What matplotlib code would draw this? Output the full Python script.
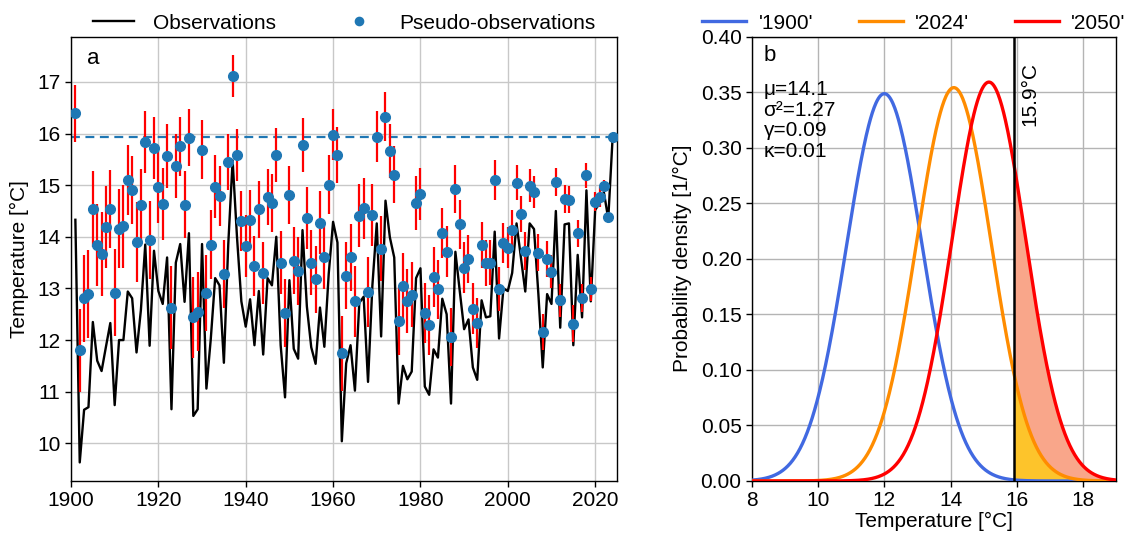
import numpy as np
import matplotlib
matplotlib.use("Agg")
import matplotlib.pyplot as plt

plt.rcParams['font.family'] = ['Liberation Sans', 'DejaVu Sans']
plt.rcParams['font.size'] = 15

# ---------------- data: panel a ----------------
years = np.arange(1901, 2025)

observations = [
    14.33, 9.63, 10.65, 10.70, 12.35, 11.60, 11.40, 11.87, 12.33, 10.74,
    12.00, 12.00, 12.94, 12.81, 11.76, 12.58, 13.85, 11.89, 13.73, 12.95,
    12.70, 13.60, 10.66, 13.50, 13.86, 12.74, 14.07, 10.53, 10.66, 13.86,
    11.06, 12.02, 13.20, 13.06, 11.56, 13.85, 15.48, 14.00, 12.75, 12.26,
    12.79, 11.90, 12.95, 11.72, 13.20, 13.06, 14.00, 11.90, 10.89, 13.16,
    11.83, 11.64, 14.13, 12.65, 11.86, 11.54, 12.63, 11.87, 13.28, 14.29,
    13.89, 10.04, 11.55, 11.90, 11.02, 12.72, 12.84, 11.19, 13.06, 14.26,
    12.07, 14.70, 13.99, 13.60, 10.77, 11.50, 11.24, 11.39, 13.20, 13.39,
    11.10, 10.94, 11.82, 11.66, 12.80, 12.50, 10.77, 13.71, 12.95, 12.21,
    12.40, 11.47, 11.23, 12.77, 12.44, 12.46, 14.10, 12.03, 13.00, 12.95,
    13.30, 14.26, 13.60, 12.94, 14.26, 14.15, 12.89, 11.47, 12.89, 12.70,
    14.50, 12.24, 14.24, 14.26, 11.90, 13.65, 12.44, 14.90, 12.75, 14.52,
    14.65, 14.86, 14.35, 15.93,
]

pseudo_obs = [
    16.39, 11.80, 12.81, 12.89, 14.54, 13.84, 13.67, 14.19, 14.54, 12.92,
    14.16, 14.20, 15.10, 14.91, 13.90, 14.62, 15.83, 13.94, 15.72, 14.97,
    14.64, 15.56, 12.63, 15.38, 15.75, 14.62, 15.92, 12.44, 12.55, 15.69,
    12.91, 13.85, 14.97, 14.79, 13.28, 15.45, 17.11, 15.58, 14.31, 13.82,
    14.33, 13.43, 14.53, 13.30, 14.77, 14.66, 15.58, 13.50, 12.53, 14.81,
    13.54, 13.33, 15.78, 14.36, 13.50, 13.18, 14.27, 13.61, 15.01, 15.98,
    15.58, 11.74, 13.25, 13.60, 12.75, 14.41, 14.55, 12.93, 14.43, 15.94,
    13.77, 16.33, 15.66, 15.20, 12.37, 13.05, 12.75, 12.88, 14.66, 14.83,
    12.53, 12.30, 13.23, 12.98, 14.07, 13.71, 12.06, 14.93, 14.24, 13.40,
    13.57, 12.61, 12.33, 13.84, 13.49, 13.50, 15.10, 12.99, 13.88, 13.79,
    14.13, 15.05, 14.44, 13.72, 14.99, 14.86, 13.69, 12.16, 13.57, 13.32,
    15.07, 12.77, 14.74, 14.72, 12.32, 14.07, 12.81, 15.19, 12.99, 14.68,
    14.77, 14.99, 14.39, 15.93,
]

pseudo_err = [
    0.55, 0.80, 0.84, 0.85, 0.73, 0.80, 0.82, 0.79, 0.75, 0.84,
    0.77, 0.80, 0.68, 0.66, 0.77, 0.70, 0.60, 0.75, 0.60, 0.70,
    0.70, 0.62, 0.80, 0.62, 0.58, 0.65, 0.55, 0.78, 0.76, 0.57,
    0.73, 0.67, 0.61, 0.59, 0.66, 0.55, 0.41, 0.50, 0.58, 0.60,
    0.58, 0.58, 0.56, 0.60, 0.55, 0.56, 0.52, 0.61, 0.66, 0.57,
    0.65, 0.66, 0.52, 0.60, 0.63, 0.65, 0.61, 0.62, 0.57, 0.50,
    0.54, 0.73, 0.65, 0.64, 0.69, 0.61, 0.59, 0.68, 0.60, 0.50,
    0.63, 0.47, 0.52, 0.55, 0.66, 0.64, 0.62, 0.63, 0.52, 0.51,
    0.58, 0.58, 0.58, 0.57, 0.49, 0.49, 0.56, 0.46, 0.48, 0.49,
    0.47, 0.49, 0.48, 0.45, 0.44, 0.44, 0.39, 0.42, 0.39, 0.40,
    0.38, 0.34, 0.35, 0.37, 0.32, 0.31, 0.36, 0.35, 0.34, 0.32,
    0.27, 0.32, 0.27, 0.26, 0.35, 0.26, 0.27, 0.24, 0.24, 0.18,
    0.19, 0.12, 0.10, 0.00,
]

threshold = 15.93
xticks_a = [1900, 1920, 1940, 1960, 1980, 2000, 2020]
yticks_a = [10, 11, 12, 13, 14, 15, 16, 17]

# ---------------- data: panel b ----------------
pdf_labels = ["'1900'", "'2024'", "'2050'"]
pdf_means = [12.0, 14.1, 15.16]
pdf_vars = [1.31, 1.27, 1.235]
pdf_colors = ['royalblue', 'darkorange', 'red']
stats_text = "μ=14.1\nσ²=1.27\nγ=0.09\nκ=0.01"
threshold_label = "15.9°C"

# ---------------- figure ----------------
fig = plt.figure(figsize=(11.34, 5.35), dpi=100)
W, H = 1134, 535
axa = fig.add_axes([71 / W, 1 - 481 / H, 546 / W, 444.5 / H])
axb = fig.add_axes([752 / W, 1 - 481 / H, 364 / W, 444.5 / H])

# panel a
axa.grid(True, color='#c8c8c8', lw=1.0, zorder=0)
axa.plot(years, observations, color='black', lw=1.7, zorder=2, label='Observations')
axa.errorbar(years, pseudo_obs, yerr=pseudo_err, fmt='none', ecolor='red',
             elinewidth=1.6, zorder=2.5)
axa.plot(years, pseudo_obs, 'o', color='#1f77b4', ms=7, zorder=3,
         label='Pseudo-observations')
axa.axhline(threshold, color='#1f77b4', ls='--', lw=1.6, dashes=(4, 2.5), zorder=2.2)
axa.set_xlim(1900, 2025)
axa.set_ylim(9.27, 17.88)
axa.set_xticks(xticks_a)
axa.set_yticks(yticks_a)
axa.set_ylabel('Temperature [°C]', labelpad=6)
axa.text(0.03, 0.975, 'a', transform=axa.transAxes, va='top', ha='left', fontsize=16)
axa.legend(loc='lower center', bbox_to_anchor=(0.5, 0.985), ncol=2, frameon=False,
           handlelength=2.0, handletextpad=0.9, columnspacing=3.0,
           borderaxespad=0.1, markerscale=0.85)

# panel b
axb.grid(True, color='#b4b4b4', lw=1.0, zorder=0)
xs = np.linspace(8, 19, 600)
curves = []
for m, v in zip(pdf_means, pdf_vars):
    s = np.sqrt(v)
    curves.append(np.exp(-0.5 * ((xs - m) / s) ** 2) / (s * np.sqrt(2 * np.pi)))
mask = xs >= threshold
axb.fill_between(xs, 0, curves[2], where=mask, color='#f9a68a', lw=0, zorder=1)
axb.fill_between(xs, 0, curves[1], where=mask, color='#fdc42b', lw=0, zorder=1.1)
for c, lab, col in zip(curves, pdf_labels, pdf_colors):
    axb.plot(xs, c, color=col, lw=2.4, label=lab, zorder=3)
axb.axvline(threshold, color='black', lw=1.8, zorder=4)
axb.text(threshold + 0.17, 0.377, threshold_label, rotation=90, ha='left', va='top')
axb.text(8.35, 0.392, 'b', ha='left', va='top', fontsize=16)
axb.text(8.35, 0.361, stats_text, ha='left', va='top', linespacing=1.12)
axb.set_xlim(8, 19)
axb.set_ylim(0, 0.40)
axb.set_xticks([8, 10, 12, 14, 16, 18])
axb.set_yticks(np.arange(0, 0.401, 0.05))
axb.yaxis.set_major_formatter(matplotlib.ticker.FormatStrFormatter('%.2f'))
axb.set_xlabel('Temperature [°C]', labelpad=1)
axb.set_ylabel('Probability density [1/°C]', labelpad=6)
axb.legend(loc='lower center', bbox_to_anchor=(0.445, 0.985), ncol=3, frameon=False,
           handlelength=2.1, handletextpad=0.6, columnspacing=2.2, borderaxespad=0.1)

for ax in (axa, axb):
    for sp in ax.spines.values():
        sp.set_color('black')
        sp.set_linewidth(1.0)
    ax.tick_params(direction='out', length=4, width=1, colors='black')
    ax.set_axisbelow(True)

fig.savefig('out.png', dpi=100)
